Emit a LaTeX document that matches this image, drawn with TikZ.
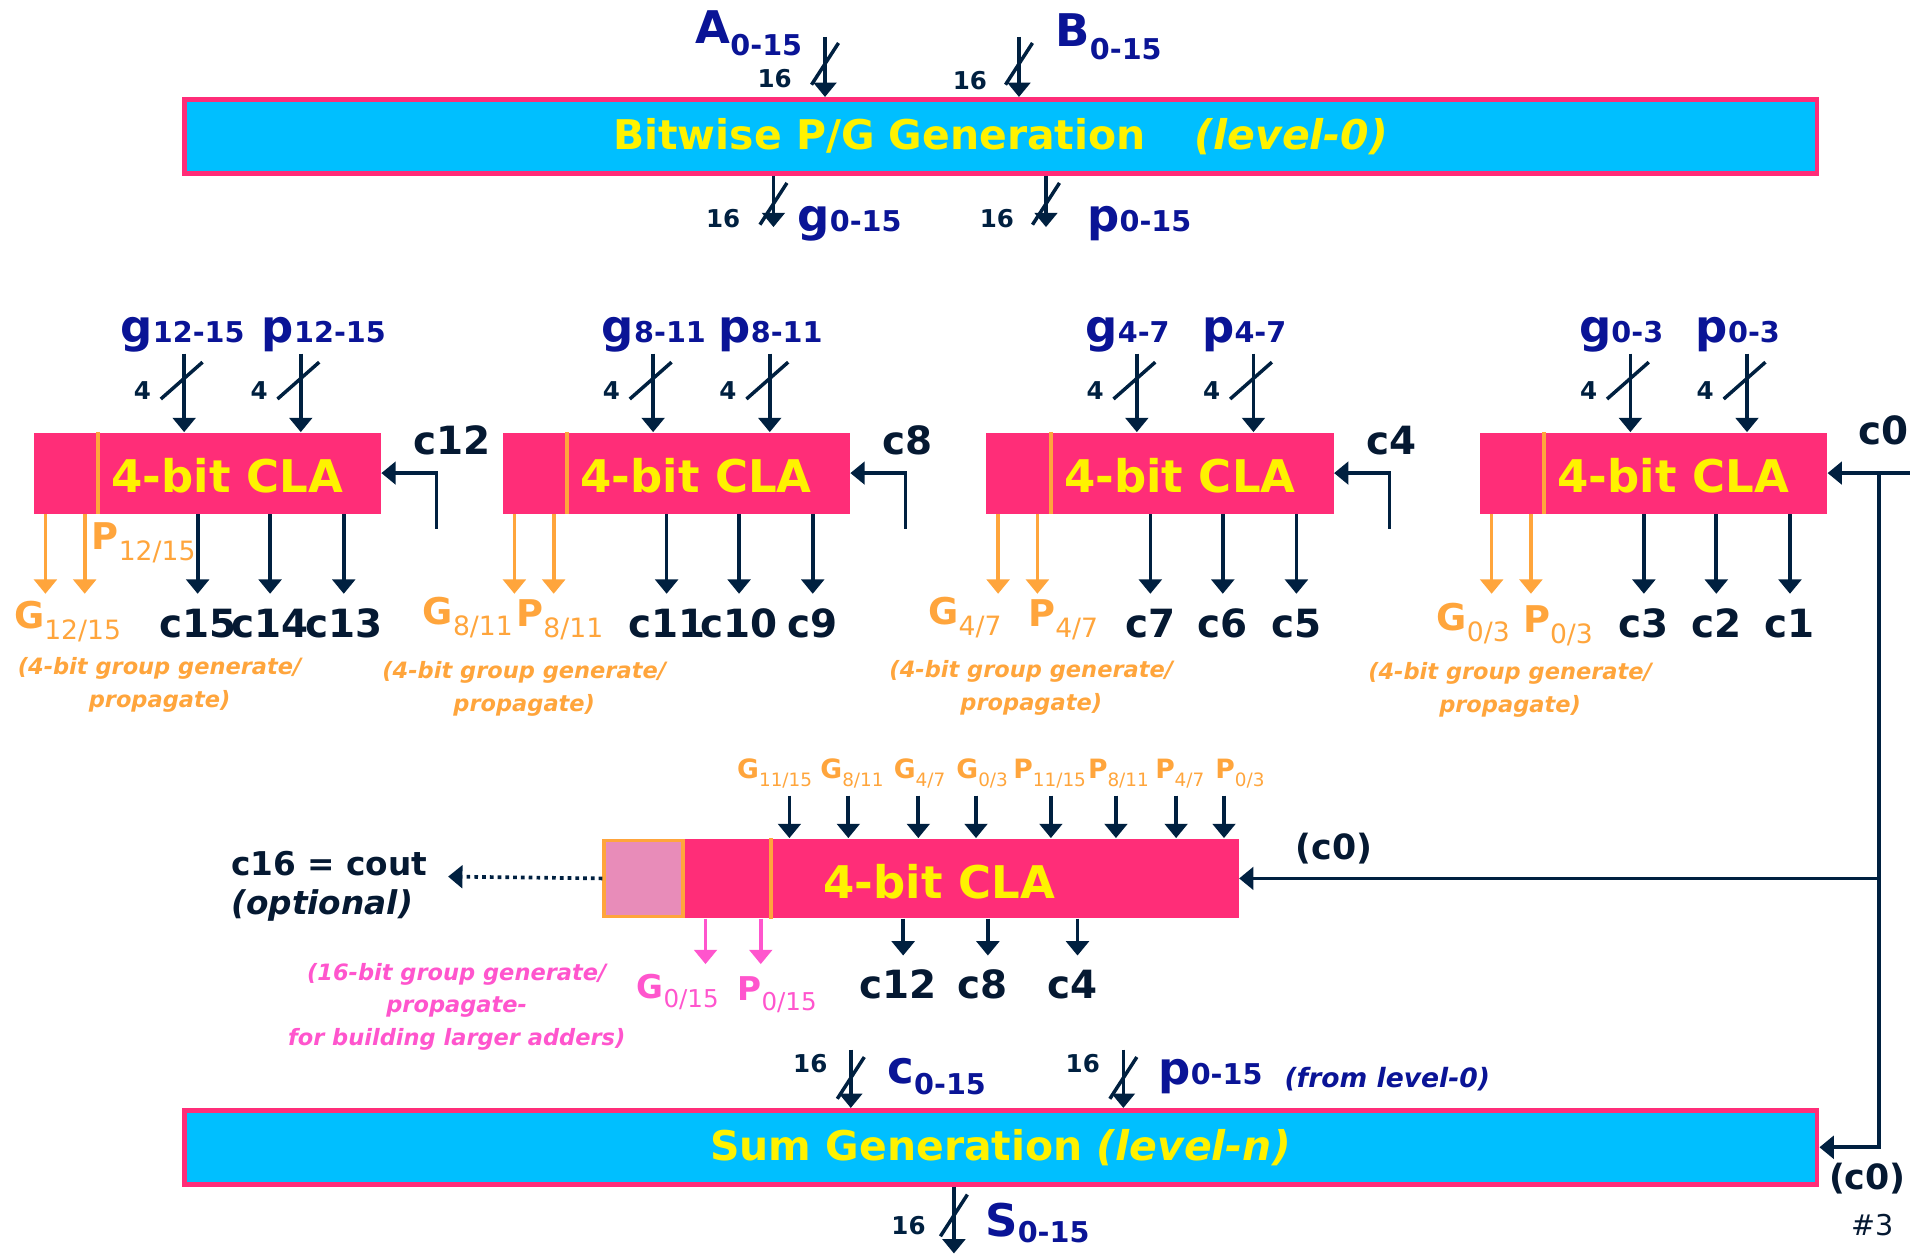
\documentclass[tikz,border=0pt]{standalone}
\usepackage{fontspec}
\setmainfont{DejaVu Sans}
\usetikzlibrary{positioning,arrows.meta,calc}
\definecolor{levelcyan}{RGB}{0,191,255}
\definecolor{clapink}{RGB}{255,45,120}
\definecolor{grporange}{RGB}{255,165,60}
\definecolor{grpmag}{RGB}{255,85,205}
\definecolor{wirenavy}{RGB}{0,32,64}
\definecolor{carrynavy}{RGB}{5,25,50}
\definecolor{busblue}{RGB}{10,20,150}
\definecolor{texpink}{RGB}{232,140,185}
\newcommand{\buslbl}[3][0pt]{{\fontsize{22}{24}\selectfont #2}\raisebox{#1}{\fontsize{14}{16}\selectfont #3}}
\newcommand{\grplbl}[3][13]{#2\raisebox{-0.3em}{\fontsize{#1}{#1}\selectfont\mdseries #3}}
\tikzset{
  levelbox/.style={draw=clapink, line width=2.4pt, fill=levelcyan, inner sep=0pt,
    minimum width=798pt, minimum height=36pt, text=yellow,
    font=\fontsize{20}{24}\selectfont\bfseries},
  clabox/.style={fill=clapink, inner sep=0pt, minimum width=169.8pt, minimum height=39.6pt},
  clatext/.style={text=yellow, font=\fontsize{22}{26}\selectfont\bfseries, inner sep=0pt},
  coutbox/.style={draw=grporange, line width=1.8pt, fill=texpink, inner sep=0pt,
    minimum width=38.4pt, minimum height=37.2pt},
  divider/.style={draw=grporange, line width=2pt},
  sig/.style={draw=wirenavy, line width=1.8pt, -{Triangle[length=7pt,width=11pt]}},
  grpsig/.style={sig, draw=grporange},
  magsig/.style={sig, draw=grpmag},
  cutline/.style={draw=wirenavy, line width=1.7pt},
  widthtext/.style={text=wirenavy, font=\fontsize{12}{14}\selectfont\bfseries, inner sep=0pt},
  bustext/.style={text=busblue, font=\bfseries, inner sep=0pt},
  carrytext/.style={text=carrynavy, font=\fontsize{19}{22}\selectfont\bfseries, inner sep=0pt},
  grptext/.style={text=grporange, font=\fontsize{18}{20}\selectfont\bfseries, inner sep=0pt},
  grpnote/.style={text=grporange, font=\fontsize{11}{16}\selectfont\bfseries\itshape, align=center, inner sep=0pt},
  cut16/.pic={\draw[cutline] (-11,17) -- (11,-17);},
  cut4/.pic={\draw[cutline] (-17,15) -- (17,-15);},
}
\begin{document}
\begin{tikzpicture}[x=0.6pt, y=-0.6pt]
  \useasboundingbox (0,0) rectangle (1568,1021);
  % level-0
  \node[levelbox] (pg) at (815,111) {Bitwise P/G Generation\hspace{1.2em}\textit{(level-0)}};
  \coordinate (ain) at (672,30);
  \coordinate (bin) at (830,30);
  \draw[sig] (ain) -- (ain |- pg.north);
  \draw[sig] (bin) -- (bin |- pg.north);
  \pic at (672,52) {cut16};
  \pic at (830,52) {cut16};
  \node[widthtext] at (631,64) {16};
  \node[widthtext] at (790,66) {16};
  \node[bustext] at (610,27) {\buslbl[-6pt]{A}{0-15}};
  \node[bustext] at (903,30) {\buslbl[-6pt]{B}{0-15}};
  \coordinate (gout) at (630,185);
  \coordinate (pout) at (852,185);
  \draw[sig] (pg.south -| gout) -- (gout);
  \draw[sig] (pg.south -| pout) -- (pout);
  \pic at (630,166) {cut16};
  \pic at (852,166) {cut16};
  \node[widthtext] at (589,178) {16};
  \node[widthtext] at (812,178) {16};
  \node[bustext] at (692,182) {\buslbl{g}{0-15}};
  \node[bustext] at (928,182) {\buslbl{p}{0-15}};

  % 4-bit CLA row
  \foreach \n/\bx/\lo/\go/\po/\ca/\cb/\cc in {1/27/12-15/-52/-32/c15/c14/c13, 2/409/8-11/-42/-42/c11/c10/c9,
      3/803/4-7/-42/-42/c7/c6/c5, 4/1205/0-3/-42/-42/c3/c2/c1} {
    \node[clabox, anchor=north west] (cla\n) at (\bx,352) {};
    \draw[divider] ($(cla\n.north west)+(53,0)$) -- ($(cla\n.south west)+(53,0)$);
    \node[clatext] at ($(cla\n.west)+(158,2)$) {4-bit CLA};
    \foreach \dx/\s/\off in {123/g/\go,218/p/\po} {
      \coordinate (in\n\s) at ($(cla\n.north west)+(\dx,-64)$);
      \draw[sig] (in\n\s) -- (in\n\s |- cla\n.north);
      \pic at ($(in\n\s)+(-2,22)$) {cut4};
      \node[widthtext] at ($(in\n\s)+(-34,30)$) {4};
      \node[bustext, anchor=base west] at ($(in\n\s)+(\off,-9)$) {\buslbl{\s}{\lo}};
    }
    \foreach \dx in {10,42} {
      \coordinate (go\n) at ($(cla\n.south west)+(\dx,65)$);
      \draw[grpsig] (go\n |- cla\n.south) -- (go\n);
    }
    \foreach \dx/\cl in {134/\ca,193/\cb,253/\cc} {
      \coordinate (co\n) at ($(cla\n.south west)+(\dx,65)$);
      \draw[sig] (co\n |- cla\n.south) -- (co\n);
      \node[carrytext, anchor=base] at ($(co\n)+(0,36)$) {\cl};
    }
  }
  \foreach \n/\cn in {1/c12,2/c8,3/c4} {
    \coordinate (cin\n) at ($(cla\n.south east)+(45,12)$);
    \draw[sig] (cin\n) |- (cla\n.east);
    \node[carrytext, anchor=base west] at ($(cla\n.north east)+(26,18)$) {\cn};
  }
  \coordinate (c0in) at ($(cla4.east)+(67,0)$);
  \coordinate (c0bus) at ($(cla4.east)+(42,0)$);
  \draw[sig] (c0in) -- (cla4.east);
  \node[carrytext, anchor=base west] at ($(cla4.north east)+(25,10)$) {c0};

  % group generate / propagate
  \node[grptext] at (55,506) {\grplbl{G}{12/15}};
  \node[grptext] at (117,442) {\grplbl{P}{12/15}};
  \node[grptext] at (381,503) {\grplbl{G}{8/11}};
  \node[grptext] at (456,505) {\grplbl{P}{8/11}};
  \node[grptext] at (786,503) {\grplbl{G}{4/7}};
  \node[grptext] at (866,505) {\grplbl{P}{4/7}};
  \node[grptext] at (1200,508) {\grplbl{G}{0/3}};
  \node[grptext] at (1269,510) {\grplbl{P}{0/3}};
  \foreach \x/\y in {130/558, 427/561, 840/560, 1230/562}
    \node[grpnote] at (\x,\y) {(4-bit group generate/\\propagate)};

  % second level CLA
  \node[clabox, minimum width=270.6pt, minimum height=39pt] (cla5) at (783.5,715.5) {};
  \node[coutbox, anchor=east] (cout) at (cla5.west) {};
  \draw[divider] ($(cla5.north west)+(70,0)$) -- ($(cla5.south west)+(70,0)$);
  \node[clatext] at (765,718) {4-bit CLA};
  \foreach \x/\lx/\L/\a/\b [count=\i] in {643/631/G/11/15, 691/694/G/8/11, 748/749/G/4/7,
      795/800/G/0/3, 856/855/P/11/15, 909/911/P/8/11, 958/961/P/4/7, 997/1010/P/0/3} {
    \coordinate (tin\i) at (\x,648);
    \draw[sig] (tin\i) -- (tin\i |- cla5.north);
    \node[grptext, font=\fontsize{13}{15}\selectfont\bfseries, anchor=base] at (\lx,634) {\grplbl[9]{\L}{\a/\b}};
  }
  \foreach \dx in {17,62} {
    \coordinate (mo) at ($(cla5.south west)+(\dx,37)$);
    \draw[magsig] (mo |- cla5.south) -- (mo);
  }
  \foreach \dx/\cl in {178/c12,247/c8,320/c4} {
    \coordinate (bo) at ($(cla5.south west)+(\dx,30)$);
    \draw[sig] (bo |- cla5.south) -- (bo);
    \node[carrytext, anchor=base] at ($(bo)+(-4,35)$) {\cl};
  }
  \node[grptext, text=grpmag, font=\fontsize{16}{18}\selectfont\bfseries] at (552,808) {\grplbl[12]{G}{0/15}};
  \node[grptext, text=grpmag, font=\fontsize{16}{18}\selectfont\bfseries] at (633,810) {\grplbl[12]{P}{0/15}};
  \node[grpnote, text=grpmag] at (372,820) {(16-bit group generate/\\propagate-\\for building larger adders)};
  \coordinate (coutend) at (365,714);
  \draw[sig, dotted, -{Triangle[length=7pt,width=11pt]}] (cout.west) -- (coutend);
  \node[carrytext, font=\fontsize{16}{18}\selectfont\bfseries, anchor=base west] at (188,713) {c16 = cout};
  \node[carrytext, font=\fontsize{16}{18}\selectfont\bfseries\itshape, anchor=base west] at (188,745) {(optional)};
  \draw[sig] (c0bus |- cla5.east) -- (cla5.east);
  \node[carrytext, font=\fontsize{17}{19}\selectfont\bfseries, anchor=base west] at (1055,700) {(c0)};

  % level-n
  \node[levelbox] (sum) at (815,934.5) {Sum Generation \textit{(level-n)}};
  \coordinate (sumc) at (693,855);
  \coordinate (sump) at (915,855);
  \draw[sig] (sumc) -- (sumc |- sum.north);
  \draw[sig] (sump) -- (sump |- sum.north);
  \pic at (693,878) {cut16};
  \pic at (915,878) {cut16};
  \node[widthtext] at (660,866) {16};
  \node[widthtext] at (882,866) {16};
  \node[bustext] at (763,877) {\buslbl[-5pt]{c}{0-15}};
  \node[bustext] at (986,877) {\buslbl{p}{0-15}};
  \node[bustext, font=\fontsize{13}{15}\selectfont\bfseries\itshape] at (1130,879) {(from level-0)};
  \draw[sig] (c0bus) |- (sum.east);
  \node[carrytext, font=\fontsize{17}{19}\selectfont\bfseries] at (1521,960) {(c0)};
  \node[text=carrynavy, font=\fontsize{14}{16}\selectfont, inner sep=0pt] at (1525,998) {\#3};
  \coordinate (sout) at (777,1021);
  \draw[sig] (sum.south -| sout) -- (sout);
  \pic at (777,990) {cut16};
  \node[widthtext] at (740,998) {16};
  \node[bustext] at (845,996) {\buslbl[-3pt]{S}{0-15}};
\end{tikzpicture}
\end{document}
